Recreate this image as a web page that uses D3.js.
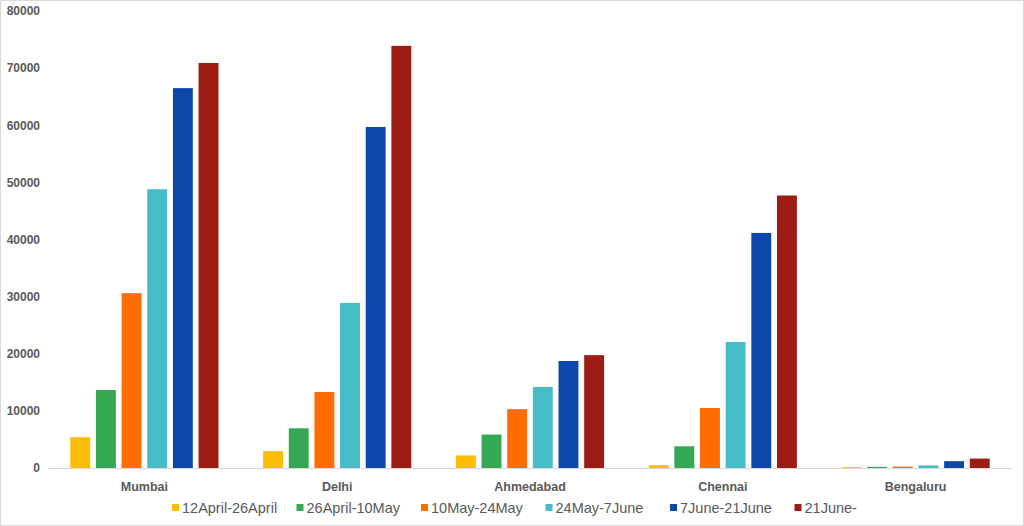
<!DOCTYPE html>
<html>
<head>
<meta charset="utf-8">
<script src="https://cdn.jsdelivr.net/npm/d3@7"></script>
<style>
  body { margin: 0; background: #fff; }
  svg { display: block; }
  text { font-family: "Liberation Sans", Arial, sans-serif; fill: #595959; }
</style>
</head>
<body>
<div id="chart"></div>
<script>
var cities = ["Mumbai", "Delhi", "Ahmedabad", "Chennai", "Bengaluru"];
var periods = ["12April-26April", "26April-10May", "10May-24May", "24May-7June", "7June-21June", "21June-"];
var colors = ["#FBBC04", "#34A853", "#FF6D01", "#46BDC6", "#0E47AC", "#9C1B12"];

// one array per period, in city order
var apr12 = [5400, 2950, 2200, 480, 150];
var apr26 = [13650, 6950, 5850, 3800, 200];
var may10 = [30600, 13300, 10300, 10500, 250];
var may24 = [48800, 28900, 14180, 22050, 450];
var jun7  = [66500, 59700, 18730, 41150, 1200];
var jun21 = [70900, 73900, 19750, 47700, 1650];
var seriesValues = [apr12, apr26, may10, may24, jun7, jun21];

var yTicks = [0, 10000, 20000, 30000, 40000, 50000, 60000, 70000, 80000];

var width = 1024, height = 526;
var margin = {top: 11, right: 12, bottom: 58, left: 48};

var svg = d3.select("#chart").append("svg")
  .attr("width", width)
  .attr("height", height);

// thin frame around the whole picture
svg.append("rect")
  .attr("x", 0.5).attr("y", 0.5)
  .attr("width", width - 1).attr("height", height - 1)
  .attr("fill", "none")
  .attr("stroke", "#d9d9d9");

var x = d3.scaleBand()
  .domain(cities)
  .range([margin.left, width - margin.right]);

var xInner = d3.scaleBand()
  .domain(periods)
  .range([0, x.bandwidth()])
  .paddingInner(0.224)
  .paddingOuter(0.87);

var y = d3.scaleLinear()
  .domain([0, 80000])
  .range([height - margin.bottom, margin.top]);

// y labels, no axis line
var yAxis = d3.axisLeft(y)
  .tickValues(yTicks)
  .tickFormat(d3.format("d"))
  .tickSize(0)
  .tickPadding(8);
var gy = svg.append("g")
  .attr("transform", "translate(" + margin.left + ",0)")
  .call(yAxis);
gy.select(".domain").remove();
gy.selectAll("text")
  .style("font-size", "12px")
  .style("font-weight", "bold")
  .attr("fill", "#595959");

// bars
var groups = svg.selectAll("g.city")
  .data(cities)
  .enter().append("g")
  .attr("class", "city")
  .attr("transform", function(d) { return "translate(" + x(d) + ",0)"; });

groups.selectAll("rect")
  .data(function(d, i) {
    return periods.map(function(p, j) {
      return {period: p, value: seriesValues[j][i], color: colors[j]};
    });
  })
  .enter().append("rect")
  .attr("x", function(d) { return xInner(d.period); })
  .attr("width", xInner.bandwidth())
  .attr("y", function(d) { return y(d.value); })
  .attr("height", function(d) { return y(0) - y(d.value); })
  .attr("fill", function(d) { return d.color; });

// category axis
var xAxis = d3.axisBottom(x).tickSize(0).tickPadding(14);
var gx = svg.append("g")
  .attr("transform", "translate(0," + y(0) + ")")
  .call(xAxis);
gx.select(".domain").attr("stroke", "#d9d9d9");
gx.selectAll("text")
  .style("font-size", "12.5px")
  .style("font-weight", "bold")
  .attr("fill", "#595959");

// legend
var legend = svg.append("g")
  .attr("transform", "translate(172,508)");

var item = legend.selectAll("g")
  .data(periods)
  .enter().append("g")
  .attr("transform", function(d, i) { return "translate(" + (i * 124.5) + ",0)"; });

item.append("rect")
  .attr("x", 0).attr("y", -4)
  .attr("width", 7).attr("height", 7)
  .attr("fill", function(d, i) { return colors[i]; });

item.append("text")
  .attr("x", 10)
  .attr("y", 0)
  .attr("dy", "0.35em")
  .style("font-size", "14.5px")
  .text(function(d) { return d; });
</script>
</body>
</html>
